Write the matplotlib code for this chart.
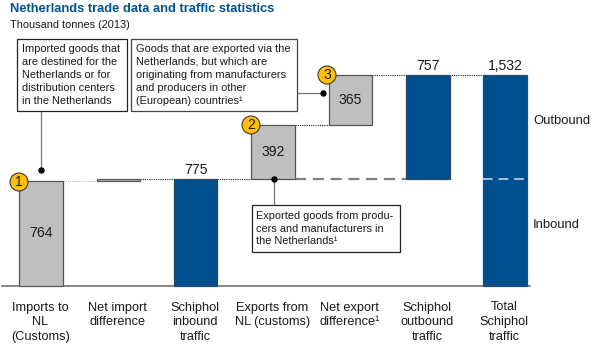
import matplotlib
matplotlib.use("Agg")
import matplotlib.pyplot as plt
from matplotlib.patches import Rectangle, Circle
from matplotlib.transforms import Affine2D

plt.rcParams['font.family'] = ['Liberation Sans', 'DejaVu Sans']

categories = ["Imports to\nNL\n(Customs)", "Net import\ndifference", "Schiphol\ninbound\ntraffic",
              "Exports from\nNL (customs)", "Net export\ndifference¹", "Schiphol\noutbound\ntraffic",
              "Total\nSchiphol\ntraffic"]
bottoms = [0, 764, 0, 775, 1167, 775, 0]
values = [764, 11, 775, 392, 365, 757, 1532]
value_labels = ["764", "", "775", "392", "365", "757", "1,532"]
kinds = ["g", "g", "b", "g", "g", "b", "b"]
inbound = 775

GREY, BLUE, TXT = "#BFBFBF", "#00508F", "#1A1A1A"
W, H = 600, 350
X0, DX, BASE, SC = 41.0, 77.35, 286.0, 211.0 / 1532

fig = plt.figure(figsize=(6, 3.5), dpi=100)
ax = fig.add_axes([0, 0, 1, 1])
ax.set_xlim(-X0 / DX, (W - X0) / DX)
ax.set_ylim(-(H - BASE) / SC, BASE / SC)
ax.axis("off")
px = Affine2D().scale(1 / W, -1 / H).translate(0, 1) + fig.transFigure  # pixel layout coords
BW = 43.5 / DX

# baseline
ax.plot([2, 530], [BASE, BASE], transform=px, color="#666666", lw=1.1, zorder=2)

# bars
for i, (b, v, k) in enumerate(zip(bottoms, values, kinds)):
    ax.bar(i, v, BW, bottom=b, color=GREY if k == "g" else BLUE,
           edgecolor="#555555" if k == "g" else "#2F4A60", linewidth=0.9, zorder=3)

# connectors
conn = [(0, 1, 764, "#BBBBBB"), (1, 2, 775, "#222222"), (2, 3, 775, "#222222"),
        (3, 4, 1167, "#222222"), (4, 5, 1532, "#222222"), (5, 6, 1532, "#222222")]
for a, c, y, col in conn:
    ax.plot([a + BW / 2, c - BW / 2], [y, y], color=col, lw=0.8, ls=(0, (1, 1)), zorder=2)
ax.plot([3 + BW / 2, 5 - BW / 2], [inbound, inbound], color="#808080", lw=1.6, ls=(0, (5, 3)), zorder=2)
ax.plot([6 - BW / 2, 6 + BW / 2], [inbound, inbound], color="#A9BFD3", lw=1.4, ls=(0, (5, 3)), zorder=4)

# values
for i, lab in enumerate(value_labels):
    if not lab:
        continue
    if kinds[i] == "g":
        ax.text(i, bottoms[i] + values[i] / 2, lab, ha="center", va="center", fontsize=10.1, color=TXT, zorder=5)
    else:
        ax.text(i, bottoms[i] + values[i], lab, ha="center", va="bottom", fontsize=10.1, color=TXT, zorder=5,
                transform=ax.transData + Affine2D().translate(0, 2))

# category labels
for i, lab in enumerate(categories):
    ax.text(i - 0.01, -(301.5 - BASE) / SC, lab, ha="center", va="top", fontsize=9.2,
            color=TXT, linespacing=1.32, transform=ax.transData)

# side labels
ax.text(533, 121.5, "Outbound", transform=px, fontsize=9.4, color=TXT, va="center")
ax.text(533, 224.5, "Inbound", transform=px, fontsize=9.4, color=TXT, va="center")

# title
ax.text(9.5, 8.5, "Netherlands trade data and traffic statistics", transform=px, fontsize=9.3,
        fontweight="bold", color="#00528F", va="center")
ax.text(9.5, 24.5, "Thousand tonnes (2013)", transform=px, fontsize=7.9, color=TXT, va="center")

# callout leaders and dots
leaders = [([40.5, 40.5], [111, 169.5]), ([297, 323], [93, 93]), ([274, 274], [205, 178.5])]
for xs, ys in leaders:
    ax.plot(xs, ys, transform=px, color="#777777", lw=0.9, zorder=6)
    ax.plot(xs[-1], ys[-1], "o", ms=3.6, color="black", transform=px, zorder=7)

# callout boxes
boxes = [(16.5, 38.5, 110, 72.5, "Imported goods that\nare destined for the\nNetherlands or for\ndistribution centers\nin the Netherlands", 22, "#222222", 1.37),
         (130.5, 38.5, 166.5, 72.5, "Goods that are exported via the\nNetherlands, but which are\noriginating from manufacturers\nand producers in other\n(European) countries¹", 136.5, "#444444", 1.37),
         (251.5, 205, 148.5, 47, "Exported goods from produ-\ncers and manufacturers in\nthe Netherlands¹", 256.5, "#222222", 1.35)]
for x, y, w, h, s, tx, ec, ls in boxes:
    ax.add_patch(Rectangle((x + 1, y + 1), w, h, transform=px, fc="#AAAAAA", ec="none", zorder=7))
    ax.add_patch(Rectangle((x, y), w, h, transform=px, fc="white", ec=ec, lw=0.9, zorder=8))
    ax.text(tx, y + h / 2, s, transform=px, fontsize=7.95, color=TXT, va="center",
            linespacing=ls, zorder=9)

# numbered badges
for n, cx, cy in [("1", 19, 182), ("2", 251, 125), ("3", 327, 75)]:
    ax.add_patch(Circle((cx, cy), 9, transform=px, fc="#FFC000", ec="#3A3A3A", lw=0.8, zorder=10))
    ax.text(cx, cy + 0.3, n, transform=px, ha="center", va="center", fontsize=10, color=TXT, zorder=11)

fig.savefig("out.png", dpi=100)
